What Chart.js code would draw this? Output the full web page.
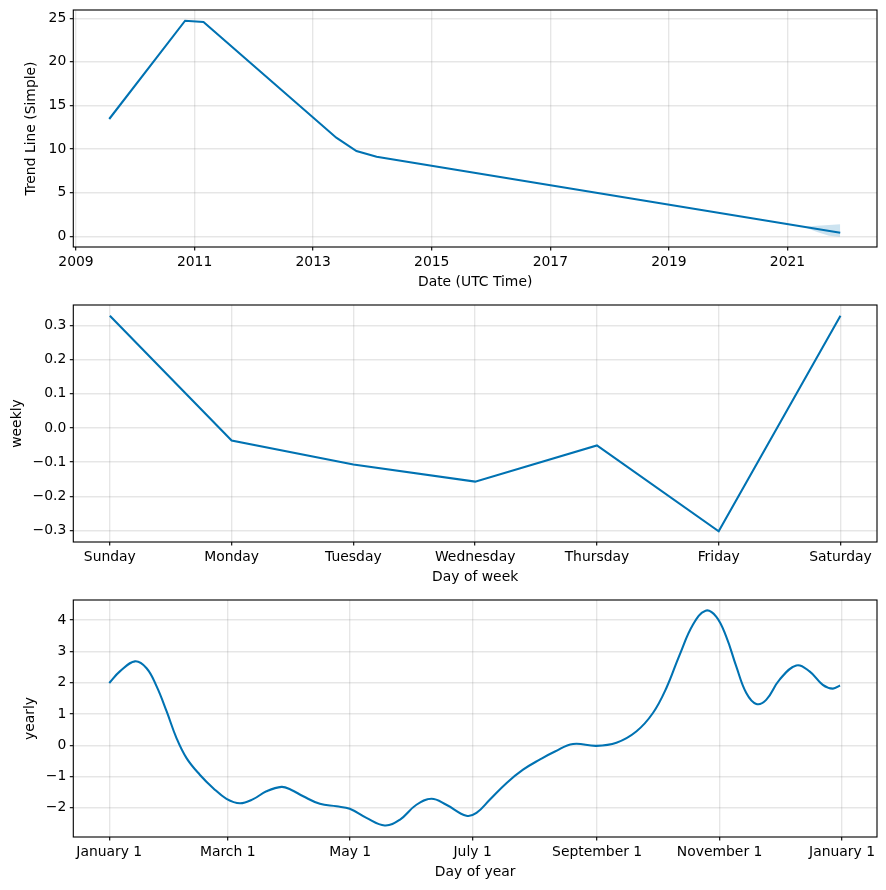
<!DOCTYPE html>
<html>
<head>
<meta charset="utf-8">
<script src="https://cdn.jsdelivr.net/npm/chart.js@4.4.0/dist/chart.umd.min.js"></script>
<style>
  html, body { margin: 0; padding: 0; background: #ffffff; }
  body { width: 886px; height: 890px; position: relative; overflow: hidden; }
  canvas { position: absolute; left: 0; }
</style>
</head>
<body>
<canvas id="c1" width="886" height="295" style="top:0px"></canvas>
<canvas id="c2" width="886" height="295" style="top:295px"></canvas>
<canvas id="c3" width="886" height="300" style="top:590px"></canvas>
<script>
// ---- Trend panel data ----
const trendX = [2009.56, 2010.84, 2011.15, 2013.39, 2013.73, 2014.07, 2021.89];
const trendY = [13.45, 24.72, 24.57, 11.3, 9.78, 9.13, 0.41];
const bandX = [2021.27, 2021.5, 2021.7, 2021.89];
const bandUpper = [1.10, 1.22, 1.30, 1.37];
const bandLower = [1.10, 0.50, 0.05, -0.05];
const trendXTicks = [2009, 2011, 2013, 2015, 2017, 2019, 2021];
const trendYTicks = [0, 5, 10, 15, 20, 25];

// ---- Weekly panel data ----
const weekDays = ["Sunday", "Monday", "Tuesday", "Wednesday", "Thursday", "Friday", "Saturday"];
const weeklyValues = [0.328, -0.037, -0.107, -0.157, -0.051, -0.302, 0.328];
const weeklyYTicks = [-0.3, -0.2, -0.1, 0.0, 0.1, 0.2, 0.3];

// ---- Yearly panel data ----
const yearDays = [0, 5.3, 12.8, 18.6, 23.6, 28.6, 33.5, 38.5, 45.1, 51.8, 58.4, 65.1, 71.7, 78.3, 85.8, 90.5, 96.6, 104.9, 113.2, 119.8, 128.1, 137.2, 144.7, 153, 160.5, 167.9, 177.9, 182.9, 189.5, 197.8, 206.1, 214.4, 222, 231, 242.6, 252.6, 262.5, 270.8, 277.5, 284.1, 290.7, 297, 302.3, 307.3, 312.3, 317.3, 322.3, 327.2, 333.8, 342.2, 348.8, 355.4, 360.4, 364];
const yearlyValues = [1.99, 2.36, 2.68, 2.46, 1.88, 1.08, 0.23, -0.41, -0.94, -1.37, -1.71, -1.85, -1.72, -1.47, -1.33, -1.42, -1.63, -1.87, -1.95, -2.03, -2.32, -2.56, -2.38, -1.90, -1.71, -1.90, -2.25, -2.16, -1.74, -1.21, -0.78, -0.46, -0.2, 0.04, -0.02, 0.08, 0.44, 1.03, 1.83, 2.89, 3.85, 4.30, 4.11, 3.47, 2.52, 1.67, 1.32, 1.45, 2.09, 2.55, 2.36, 1.93, 1.81, 1.91];
const yearTickDays = [0, 59, 120, 181, 243, 304, 365];
const yearTickLabels = ["January 1", "March 1", "May 1", "July 1", "September 1", "November 1", "January 1"];
const yearlyYTicks = [-2, -1, 0, 1, 2, 3, 4];

const LINE = '#0072B2';
const BAND = 'rgba(0,114,178,0.2)';
const FONT = { family: '"DejaVu Sans", sans-serif', size: 13.9 };
const minus = s => String(s).replace('-', '\u2212');

const boxPlugin = {
  id: 'box',
  afterDraw(chart) {
    const a = chart.chartArea, ctx = chart.ctx;
    ctx.save();
    ctx.strokeStyle = '#000';
    ctx.lineWidth = 1.11;
    ctx.strokeRect(a.left, a.top, a.right - a.left, a.bottom - a.top);
    ctx.restore();
  }
};

function zeroPad(s) { s.paddingTop = 0; s.paddingBottom = 0; s.paddingLeft = 0; s.paddingRight = 0; }

function panel(id, p) {
  return new Chart(document.getElementById(id), {
    type: 'line',
    data: { datasets: p.datasets },
    options: {
      responsive: false,
      animation: false,
      devicePixelRatio: 1,
      layout: { padding: { left: p.padLeft, right: 9, top: 10, bottom: 0 } },
      plugins: { legend: { display: false }, tooltip: { enabled: false } },
      elements: { point: { radius: 0 } },
      scales: {
        x: {
          type: 'linear', position: 'bottom', min: p.xmin, max: p.xmax,
          afterFit: s => { s.height = p.xh; zeroPad(s); },
          afterBuildTicks: s => { s.ticks = p.xticks.map(v => ({ value: v })); },
          ticks: { autoSkip: false, maxRotation: 0, padding: 3.5, color: '#000', font: FONT,
                   callback: p.xfmt },
          grid: { color: 'rgba(128,128,128,0.2)', lineWidth: 1.39, tickColor: '#000', tickLength: 3.5, tickWidth: 1.11 },
          border: { display: false },
          title: { display: true, text: p.xlabel, color: '#000', font: FONT, padding: { top: 0, bottom: p.xtPad } }
        },
        y: {
          type: 'linear', position: 'left', min: p.ymin, max: p.ymax,
          afterFit: s => { s.width = 73.3 - p.padLeft; zeroPad(s); },
          afterBuildTicks: s => { s.ticks = p.yticks.map(v => ({ value: v })); },
          ticks: { autoSkip: false, padding: 3.5, color: '#000', font: FONT, callback: p.yfmt },
          grid: { color: 'rgba(128,128,128,0.2)', lineWidth: 1.39, tickColor: '#000', tickLength: 3.5, tickWidth: 1.11 },
          border: { display: false },
          title: { display: true, text: p.ylabel, color: '#000', font: FONT, padding: { top: 0, bottom: 0 } }
        }
      }
    },
    plugins: [boxPlugin]
  });
}

const pts = (xs, ys) => xs.map((x, i) => ({ x: x, y: ys[i] }));

panel('c1', {
  padLeft: 23.4, xh: 48, xtPad: 4.7,
  xmin: 2008.954, xmax: 2022.51, ymin: -1.23, ymax: 25.95,
  xticks: trendXTicks, yticks: trendYTicks,
  xfmt: v => String(v), yfmt: v => minus(v),
  xlabel: 'Date (UTC Time)', ylabel: 'Trend Line (Simple)',
  datasets: [
    { data: pts(bandX, bandUpper), borderWidth: 0, borderColor: 'rgba(0,0,0,0)', backgroundColor: BAND, fill: '+1', tension: 0 },
    { data: pts(bandX, bandLower), borderWidth: 0, borderColor: 'rgba(0,0,0,0)', backgroundColor: BAND, fill: false, tension: 0 },
    { data: pts(trendX, trendY), borderColor: LINE, borderWidth: 2.08, fill: false, tension: 0 }
  ]
});

panel('c2', {
  padLeft: 9.2, xh: 48, xtPad: 4.4,
  xmin: -0.3, xmax: 6.3, ymin: -0.3335, ymax: 0.3595,
  xticks: weekDays.map((d, i) => i), yticks: weeklyYTicks,
  xfmt: (v, i) => weekDays[i], yfmt: v => minus(Number(v).toFixed(1)),
  xlabel: 'Day of week', ylabel: 'weekly',
  datasets: [
    { data: pts(weekDays.map((d, i) => i), weeklyValues), borderColor: LINE, borderWidth: 2.08, fill: false, tension: 0 }
  ]
});

panel('c3', {
  padLeft: 22.5, xh: 53, xtPad: 9.4,
  xmin: -17.9, xmax: 382.4, ymin: -2.93, ymax: 4.64,
  xticks: yearTickDays, yticks: yearlyYTicks,
  xfmt: (v, i) => yearTickLabels[i], yfmt: v => minus(v),
  xlabel: 'Day of year', ylabel: 'yearly',
  datasets: [
    { data: pts(yearDays, yearlyValues), borderColor: LINE, borderWidth: 2.08, fill: false, tension: 0.4 }
  ]
});
</script>
</body>
</html>
